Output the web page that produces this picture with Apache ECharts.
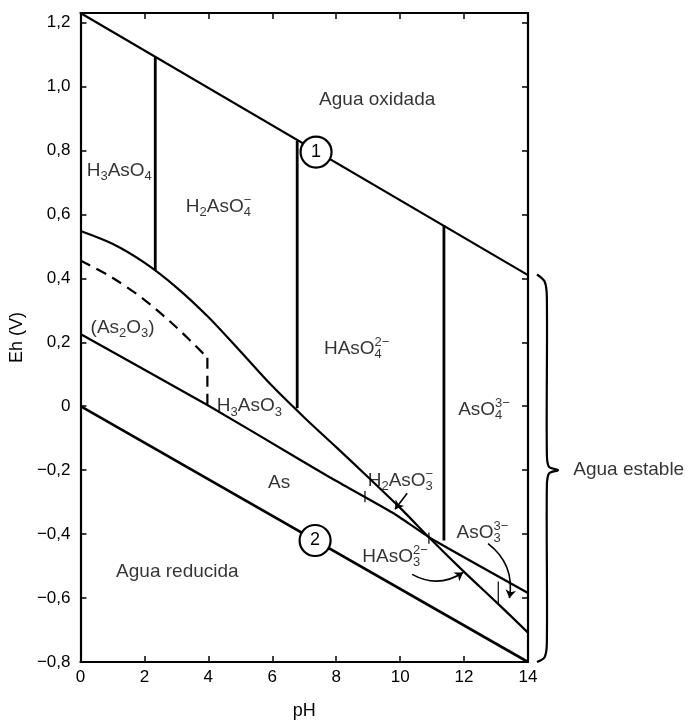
<!DOCTYPE html>
<html>
<head>
<meta charset="utf-8">
<script src="https://cdn.jsdelivr.net/npm/echarts@6/dist/echarts.min.js"></script>
<style>
html,body{margin:0;padding:0;background:#fff;}
#chart{width:688px;height:725px;}
</style>
</head>
<body>
<div id="chart"></div>
<script>
// ---- data (pH, Eh in V) ----
const pHTicks = [0, 2, 4, 6, 8, 10, 12, 14];
const ehTicks = [-0.8, -0.6, -0.4, -0.2, 0, 0.2, 0.4, 0.6, 0.8, 1.0, 1.2];

const waterUpper = [[0, 1.23], [14, 0.41]];
const waterLower = [[0, 0.0], [14, -0.8]];

const asVtoAsIII = [[0, 0.548], [1, 0.508], [2, 0.449], [3, 0.372], [4, 0.279], [5, 0.172],
  [6, 0.063], [7, -0.035], [8, -0.128], [9, -0.222], [10, -0.318], [11, -0.42],
  [12, -0.518], [13, -0.612], [14, -0.708]];
const asIIItoAs = [[0, 0.226], [3.97, 0.004], [6.88, -0.168], [7.81, -0.223], [9.78, -0.334],
  [10.94, -0.412], [14, -0.584]];
const as2o3Curve = [[0, 0.456], [1, 0.402], [2, 0.333], [3, 0.247], [3.97, 0.152]];
const as2o3Vertical = [[3.97, 0.152], [3.97, 0.006]];

const pKa1 = [[2.34, 1.092], [2.34, 0.424]];
const pKa2 = [[6.78, 0.83], [6.78, -0.006]];
const pKa3 = [[11.37, 0.567], [11.37, -0.42]];
const pKaSmall = [[13.07, -0.548], [13.07, -0.619]];
const lineTicks = [[[8.9, -0.265], [8.9, -0.3]], [[10.9, -0.395], [10.9, -0.43]]];

const circleMarks = [[7.37, 0.795, '1'], [7.34, -0.42, '2']];

const arrows = [
  { from: [10.22, -0.272], to: [9.84, -0.322], curve: 0 },
  { from: [10.375, -0.526], to: [11.97, -0.52], curve: -0.3 },
  { from: [12.75, -0.43], to: [13.42, -0.6], curve: 0.3 }
];

const braceShape = [[14.28, 0.412], [14.52, 0.39], [14.59, 0.34], [14.59, -0.15], [14.66, -0.19],
  [14.94, -0.2], [14.66, -0.21], [14.59, -0.25], [14.59, -0.74], [14.52, -0.785], [14.28, -0.8]];

const textLabels = [
  [7.45, 0.96, 'Agua oxidada'],
  [0.18, 0.737, 'H{s|3}AsO{s|4}'],
  [3.28, 0.625, 'H{s|2}AsO{sz|4}{p|−}'],
  [7.6, 0.18, 'HAsO{sz|4}{p|2−}'],
  [11.8, -0.01, 'AsO{sz|4}{p|3−}'],
  [0.3, 0.245, '(As{s|2}O{s|3})'],
  [4.25, 0.0, 'H{s|3}AsO{s|3}'],
  [5.85, -0.24, 'As'],
  [8.97, -0.232, 'H{s|2}AsO{sz|3}{p|−}'],
  [11.75, -0.395, 'AsO{sz|3}{p|3−}'],
  [8.8, -0.47, 'HAsO{sz|3}{p|2−}'],
  [1.1, -0.517, 'Agua reducida'],
  [15.4, -0.2, 'Agua estable']
];

// ---- chart ----
const chart = echarts.init(document.getElementById('chart'));
const FONT = 'Liberation Sans';
const fmtEh = v => {
  const r = Math.round(v * 10) / 10;
  if (Math.abs(r) < 1e-9) return '0';
  return (r < 0 ? '−' : '') + Math.abs(r).toFixed(1).replace('.', ',');
};

function lineSeries(data, opts) {
  return Object.assign({
    type: 'line', data: data, symbol: 'none', silent: true, clip: false,
    lineStyle: { color: '#000', width: 2.2 }, z: 3, animation: false
  }, opts || {});
}

const rich = {
  n: { fontSize: 19, fontFamily: FONT, color: '#000' },
  s: { fontSize: 13, fontFamily: FONT, color: '#000', padding: [12, 0, 0, 0] },
  sz: { fontSize: 13, fontFamily: FONT, color: '#000', padding: [12, 0, 0, 0], width: 0 },
  p: { fontSize: 13, fontFamily: FONT, color: '#000', padding: [0, 0, 12, 0] }
};

const axisFont = { fontFamily: FONT, fontSize: 17, color: '#000' };

const option = {
  animation: false,
  backgroundColor: '#fff',
  grid: { left: 80, right: 160, top: 13, bottom: 57, containLabel: false },
  xAxis: [{
    type: 'value', min: 0, max: 14, interval: 2, position: 'bottom',
    name: 'pH', nameLocation: 'middle', nameGap: 40,
    nameTextStyle: { fontFamily: FONT, fontSize: 18, color: '#000' },
    axisLine: { show: true, onZero: false, lineStyle: { color: '#000', width: 2.2 } },
    axisTick: { show: true, inside: true, length: 6, lineStyle: { color: '#000', width: 1.5 } },
    axisLabel: Object.assign({ margin: 7 }, axisFont),
    splitLine: { show: false }
  }, {
    type: 'value', min: 0, max: 14, interval: 2, position: 'top',
    axisLine: { show: true, onZero: false, lineStyle: { color: '#000', width: 2.2 } },
    axisTick: { show: true, inside: true, length: 6, lineStyle: { color: '#000', width: 1.5 } },
    axisLabel: { show: false }, splitLine: { show: false }
  }],
  yAxis: [{
    type: 'value', min: -0.8, max: 1.23, position: 'left',
    name: 'Eh (V)', nameLocation: 'middle', nameGap: 52, nameRotate: 90,
    nameTextStyle: { fontFamily: FONT, fontSize: 18, color: '#000' },
    axisLine: { show: true, onZero: false, lineStyle: { color: '#000', width: 2.2 } },
    axisTick: { show: true, inside: true, length: 6, customValues: ehTicks, lineStyle: { color: '#000', width: 1.5 } },
    axisLabel: Object.assign({ margin: 10, customValues: ehTicks, formatter: fmtEh }, axisFont),
    splitLine: { show: false }
  }, {
    type: 'value', min: -0.8, max: 1.23, position: 'right',
    axisLine: { show: true, onZero: false, lineStyle: { color: '#000', width: 2.2 } },
    axisTick: { show: true, inside: true, length: 6, customValues: ehTicks, lineStyle: { color: '#000', width: 1.5 } },
    axisLabel: { show: false }, splitLine: { show: false }
  }],
  series: [
    lineSeries(waterUpper),
    lineSeries(waterLower, { lineStyle: { color: '#000', width: 2.6 } }),
    lineSeries(asVtoAsIII, { smooth: 0.3 }),
    lineSeries(asIIItoAs, { smooth: 0.15 }),
    lineSeries(as2o3Curve, { smooth: 0.3, lineStyle: { color: '#000', width: 2.2, type: [11, 7] } }),
    lineSeries(as2o3Vertical, { lineStyle: { color: '#000', width: 2.2, type: [11, 7] } }),
    lineSeries(pKa1, { lineStyle: { color: '#000', width: 2.8 } }),
    lineSeries(pKa2, { lineStyle: { color: '#000', width: 2.8 } }),
    lineSeries(pKa3, { lineStyle: { color: '#000', width: 2.8 } }),
    lineSeries(pKaSmall, { lineStyle: { color: '#000', width: 1.2 } }),
    ...lineTicks.map(t => lineSeries(t, { lineStyle: { color: '#000', width: 1.2 } })),
    {
      type: 'custom', silent: true, z: 3, clip: false,
      data: [0],
      renderItem: (params, api) => ({
        type: 'polyline',
        shape: { points: braceShape.map(p => api.coord(p)), smooth: 0.3 },
        style: { stroke: '#000', lineWidth: 2.2, fill: null }
      })
    },
    {
      type: 'lines', coordinateSystem: 'cartesian2d', silent: true, z: 4,
      symbol: ['none', 'arrow'], symbolSize: 8,
      data: arrows.map(a => ({ coords: [a.from, a.to], lineStyle: { curveness: a.curve } })),
      lineStyle: { color: '#000', width: 1.6, opacity: 1 }
    },
    {
      type: 'scatter', silent: true, z: 6, clip: false,
      data: circleMarks.map(c => ({ value: [c[0], c[1]], name: c[2] })),
      symbol: 'circle', symbolSize: 31,
      itemStyle: { color: '#fff', borderColor: '#000', borderWidth: 2.2, opacity: 1 },
      label: { show: true, position: 'inside', formatter: p => p.name, fontFamily: FONT, fontSize: 18, color: '#000' }
    },
    {
      type: 'scatter', silent: true, z: 7, clip: false,
      data: textLabels.map(t => ({ value: [t[0], t[1]], name: t[2] })),
      symbolSize: 1, itemStyle: { color: 'rgba(0,0,0,0)' },
      label: {
        show: true, position: 'right', distance: 0,
        formatter: p => '{n|' + p.name.replace(/\{(s|sz|p)\|([^}]*)\}/g, '}{$1|$2}{n|') + '}',
        rich: rich
      },
      labelLayout: { hideOverlap: false }
    }
  ]
};
chart.setOption(option);
</script>
</body>
</html>
